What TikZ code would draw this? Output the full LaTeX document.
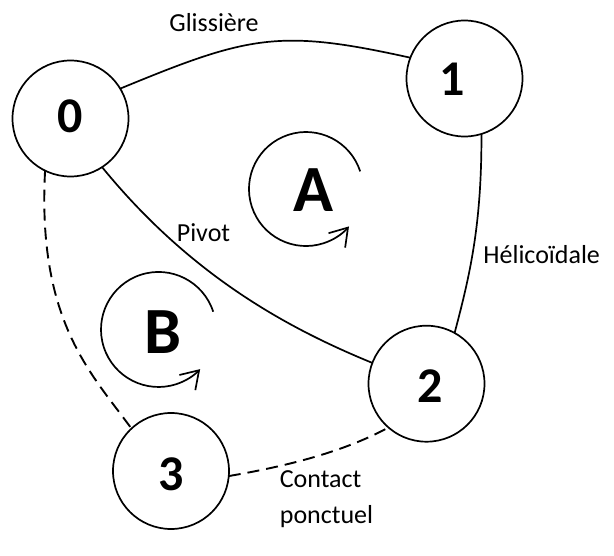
\documentclass[tikz,border=0pt]{standalone}
\usepackage{fontspec}
\setmainfont{Carlito}
\usetikzlibrary{arrows.meta}
\begin{document}
\begin{tikzpicture}[x=1pt,y=-1pt,line width=1.7pt,
  joint/.style={circle,draw,minimum size=116pt,inner sep=0pt,outer sep=0pt},
  digit/.style={font=\fontsize{50}{60}\selectfont\bfseries,anchor=base,inner sep=0pt},
  cyclelabel/.style={font=\fontsize{66}{79}\selectfont\bfseries,anchor=base,inner sep=0pt},
  lbl/.style={font=\fontsize{26}{36}\selectfont,anchor=base,inner sep=0pt},
  lblw/.style={font=\fontsize{26}{36}\selectfont,anchor=base west,inner sep=0pt},
  link/.style={line width=1.7pt},
  contactlink/.style={line width=1.9pt,dash pattern=on 12pt off 7pt},
  rot/.style={line width=1.7pt,-{Straight Barb[length=17pt,width=22pt]}}
]
\useasboundingbox (0,0) rectangle (614,556);

% joints (solids)
\node[joint] (n0) at (70.5,118.5) {};
\node[joint] (n1) at (464.5,78.5) {};
\node[joint] (n2) at (426.5,383.7) {};
\node[joint] (n3) at (171,471) {};

\node[digit] (d0) at (70.5,133) {0};
\node[digit] (d1) at (452.5,96) {1};
\node[digit] (d2) at (430,402.7) {2};
\node[digit] (d3) at (171,490) {3};

% links
\draw[link] (n0.31.8) .. controls (249,35.4) and (279,28.6) .. (n1.159);
\draw[link] (n1.-73) .. controls (481.7,225) and (470,274.8) .. (n2.61);
\draw[link] (n0.-57.8) .. controls (191.6,276.8) and (289.2,328.8) .. (n2.159.4);
\draw[contactlink] (n0.-116.4) .. controls (37,322) and (92,374) .. (n3.133);
\draw[contactlink] (n3.-5) .. controls (288,466) and (344.5,451.5) .. (n2.-131.2);

% labels
\node[lbl] (lg) at (214,31.7) {Glissière};
\node[lbl] (lp) at (203.5,241.7) {Pivot};
\node[lbl] (lh) at (541.7,263.3) {Hélicoïdale};
\node[lblw] (lc) at (279,487.3) {Contact};
\node[lblw] (lpo) at (279,523.5) {ponctuel};

% cycles
\node[cyclelabel] (ca) at (313.3,211.7) {A};
\node[cyclelabel] (cb) at (162.5,353.3) {B};
\draw[rot] (360.2,171.4) arc[start angle=-18,end angle=-319,radius=57];
\draw[rot] (213.2,311.7) arc[start angle=-18,end angle=-316.4,radius=57.5];
\end{tikzpicture}
\end{document}
